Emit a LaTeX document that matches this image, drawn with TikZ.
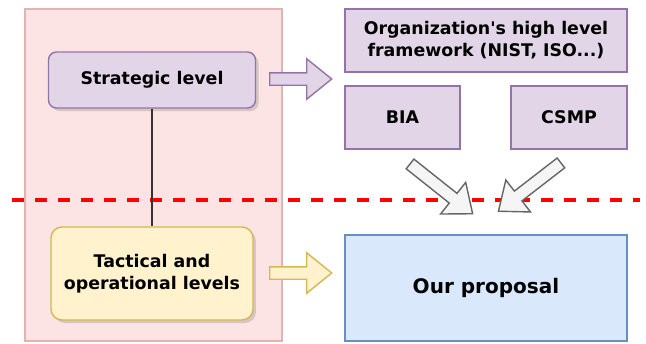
\documentclass[tikz,border=0pt]{standalone}
\usepackage{fontspec}
\setmainfont{DejaVu Sans}
\usetikzlibrary{shapes.arrows,shadows}
\definecolor{pinkfill}{HTML}{FBE4E3}
\definecolor{pinkline}{HTML}{E2B4B1}
\definecolor{purplefill}{HTML}{E1D5E7}
\definecolor{purpleline}{HTML}{9673A6}
\definecolor{yellowfill}{HTML}{FFF2CC}
\definecolor{yellowline}{HTML}{D6B656}
\definecolor{bluefill}{HTML}{DAE8FC}
\definecolor{blueline}{HTML}{6C8EBF}
\definecolor{grayfill}{HTML}{F5F5F5}
\definecolor{grayline}{HTML}{666666}
\tikzset{container/.style={draw=pinkline, fill=pinkfill, rectangle, inner sep=0pt}}

\begin{document}
\begin{tikzpicture}[line width=0.8pt, font=\bfseries\fontsize{9.9}{12.5}\selectfont]
\tikzstyle{tier} = [rectangle, rounded corners=0.16cm, text centered, align=center, drop shadow={shadow xshift=0.06cm, shadow yshift=-0.06cm, opacity=0.3}]
\tikzstyle{block} = [rectangle, text centered, align=center, draw=purpleline, fill=purplefill, inner sep=0pt]
\tikzstyle{fatarrow} = [single arrow, anchor=tail, single arrow head extend=0.28cm, single arrow tip angle=78, minimum width=0.78cm, inner xsep=0pt, inner ysep=0.11cm]
\tikzstyle{cut} = [red, line width=2.3pt, dash pattern=on 0.24cm off 0.22cm]

\useasboundingbox (0,0) rectangle (12.92,-6.86);

\node (pane) [container, minimum width=5.14cm, minimum height=6.64cm] at (3.07,-3.50) {};
\coordinate (cutL) at (0.24,-4.00);
\coordinate (cutR) at (12.80,-4.00);
\draw [cut] (cutL) -- (cutR);

\node (strat) [tier, draw=purpleline, fill=purplefill, minimum width=4.14cm, minimum height=1.12cm] at (3.04,-1.60) {Strategic level};
\node (tact) [tier, draw=yellowline, fill=yellowfill, rounded corners=0.22cm, minimum width=4.04cm, minimum height=1.86cm] at (3.04,-5.47) {Tactical and\\operational levels};
\draw [black!80] (strat) -- (tact);

\node (frame) [block, minimum width=5.64cm, minimum height=1.26cm] at (9.72,-0.81) {Organization\textquotesingle s high level\\framework (NIST, ISO...)};
\node (bia) [block, minimum width=2.30cm, minimum height=1.26cm] at (8.05,-2.35) {BIA};
\node (csmp) [block, minimum width=2.32cm, minimum height=1.26cm] at (11.38,-2.35) {CSMP};
\node (ours) [block, draw=blueline, fill=bluefill, minimum width=5.64cm, minimum height=2.12cm, font=\bfseries\fontsize{11.4}{14}\selectfont] at (9.72,-5.76) {Our proposal};

\node (toFrame) [fatarrow, draw=purpleline, fill=purplefill, minimum height=1.24cm] at (5.38,-1.58) {};
\node (toOurs) [fatarrow, draw=yellowline, fill=yellowfill, minimum height=1.24cm] at (5.38,-5.46) {};
\node (fromBIA) [fatarrow, draw=grayline, fill=grayfill, minimum height=1.60cm, rotate=-38.5] at (8.19,-3.27) {};
\node (fromCSMP) [fatarrow, draw=grayline, fill=grayfill, minimum height=1.58cm, rotate=-142.3] at (11.23,-3.25) {};

\end{tikzpicture}
\end{document}
